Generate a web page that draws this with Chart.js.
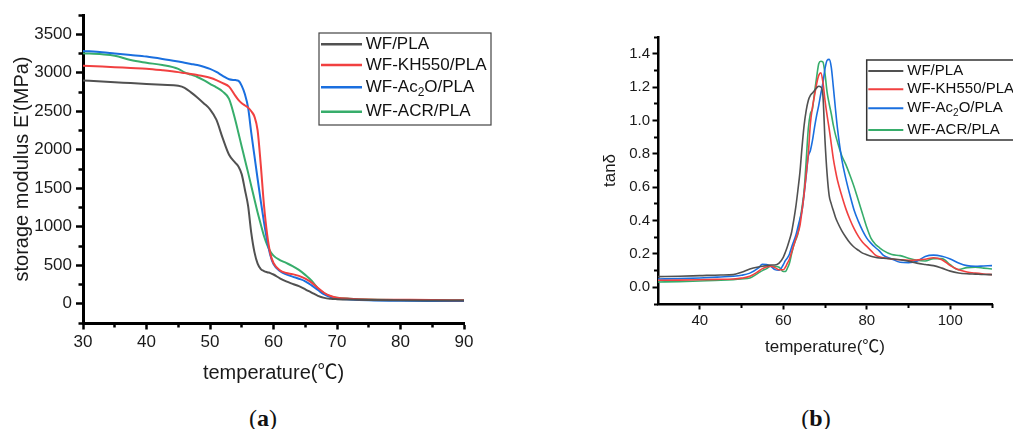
<!DOCTYPE html>
<html>
<head>
<meta charset="utf-8">
<title>WF/PLA - DMA</title>
<script src="https://cdn.jsdelivr.net/npm/chart.js@4.4.0/dist/chart.umd.min.js"></script>
<style>
  html, body { margin: 0; padding: 0; background: #fff; }
  #wrap { position: relative; width: 1013px; height: 429px; overflow: hidden; }
  canvas { position: absolute; top: 0; }
  #chartA { left: 0; }
  #chartB { left: 500px; }
  .cap { position: absolute; top: 418px; transform: translate(-50%, -50%);
         font-family: 'Liberation Serif', 'Times New Roman', serif; font-size: 24px; color: #111; }
</style>
</head>
<body>
<div id="wrap">
  <canvas id="chartA" width="500" height="400"></canvas>
  <canvas id="chartB" width="513" height="400"></canvas>
  <div class="cap" style="left:263px">(<b>a</b>)</div>
  <div class="cap" style="left:816px">(<b>b</b>)</div>
</div>
<script>
// --- (a) storage modulus E' (MPa) vs temperature ---
const tempA = [30, 33, 35, 37.5, 40, 42.5, 45, 46, 47, 48, 49, 50, 51, 52, 53, 54, 54.5, 55, 55.5, 56,
               56.5, 57, 57.5, 58, 58.5, 59, 59.5, 60, 61, 62, 63, 64, 65, 66, 67, 68, 69, 70, 72, 75, 80, 85, 90];
const modWfPla    = [2900, 2885, 2876, 2866, 2855, 2843, 2830, 2805, 2745, 2680, 2605, 2525, 2390, 2150, 1935, 1830, 1780, 1680, 1480, 1270,
                     920, 670, 520, 450, 425, 410, 398, 380, 330, 290, 258, 228, 188, 145, 102, 76, 65, 60, 54, 48, 44, 43, 43];
const modKh550    = [3090, 3080, 3072, 3062, 3052, 3032, 3008, 2995, 2983, 2970, 2955, 2935, 2905, 2865, 2820, 2700, 2645, 2605, 2575, 2547,
                     2500, 2430, 2250, 1800, 1280, 900, 650, 530, 435, 400, 385, 362, 325, 275, 205, 140, 100, 78, 65, 56, 52, 48, 45];
const modAc2o     = [3284, 3265, 3249, 3230, 3210, 3180, 3145, 3130, 3115, 3100, 3078, 3050, 3010, 2960, 2915, 2905, 2895, 2830, 2720, 2547,
                     2220, 1920, 1620, 1330, 1060, 820, 630, 515, 425, 382, 352, 325, 292, 238, 178, 121, 87, 69, 56, 45, 38, 36, 36];
const modAcr      = [3253, 3240, 3222, 3165, 3130, 3100, 3050, 3005, 2975, 2945, 2905, 2855, 2810, 2755, 2660, 2380, 2210, 2040, 1870, 1703,
                     1530, 1356, 1185, 1030, 880, 765, 680, 625, 567, 530, 490, 440, 375, 300, 200, 135, 95, 78, 65, 55, 48, 44, 42];
const xTicksA = [30, 40, 50, 60, 70, 80, 90];
const xMinorA = [35, 45, 55, 65, 75, 85];
const yTicksA = [0, 500, 1000, 1500, 2000, 2500, 3000, 3500];
const yMinorA = [-250, 250, 750, 1250, 1750, 2250, 2750, 3250, 3750];

// --- (b) tan delta vs temperature ---
const tempB = [30, 35, 40, 45, 48, 50, 52, 54, 55, 56, 57, 58, 59, 60, 60.5, 61, 61.5, 62, 62.5, 63,
               63.5, 64, 64.5, 65, 65.5, 66, 66.5, 67, 67.5, 68, 68.5, 69, 69.5, 70, 70.5, 71, 71.5, 72, 72.5, 73,
               74, 75, 76, 77, 78, 79, 80, 81, 82, 83, 84, 86, 88, 90, 92, 94, 96, 98, 100, 102, 104, 106, 108, 110];
const tanWfPla = [0.064, 0.066, 0.07, 0.074, 0.076, 0.09, 0.11, 0.122, 0.126, 0.13, 0.134, 0.134, 0.145, 0.18, 0.21, 0.245, 0.285, 0.33, 0.4, 0.48,
                  0.58, 0.69, 0.84, 0.97, 1.06, 1.12, 1.15, 1.165, 1.18, 1.195, 1.205, 1.2, 1.15, 0.88, 0.68, 0.55, 0.5, 0.46, 0.42, 0.39,
                  0.34, 0.3, 0.265, 0.24, 0.222, 0.205, 0.195, 0.186, 0.18, 0.176, 0.174, 0.17, 0.165, 0.157, 0.145, 0.137, 0.13, 0.115, 0.097, 0.086,
                  0.081, 0.079, 0.077, 0.076];
const tanKh550 = [0.042, 0.043, 0.045, 0.048, 0.05, 0.055, 0.066, 0.095, 0.112, 0.122, 0.126, 0.118, 0.105, 0.105, 0.12, 0.145, 0.17, 0.21, 0.25, 0.29,
                  0.325, 0.37, 0.46, 0.56, 0.68, 0.8, 0.98, 1.08, 1.15, 1.22, 1.27, 1.285, 1.23, 1.12, 1.03, 0.95, 0.86, 0.77, 0.7, 0.64,
                  0.55, 0.47, 0.405, 0.35, 0.305, 0.27, 0.245, 0.22, 0.195, 0.183, 0.177, 0.17, 0.165, 0.162, 0.164, 0.168, 0.177, 0.165, 0.13, 0.105,
                  0.092, 0.085, 0.08, 0.076];
const tanAc2o  = [0.05, 0.052, 0.056, 0.062, 0.066, 0.072, 0.085, 0.115, 0.138, 0.136, 0.126, 0.106, 0.102, 0.135, 0.16, 0.176, 0.2, 0.24, 0.275, 0.31,
                  0.36, 0.41, 0.46, 0.56, 0.67, 0.786, 0.82, 0.88, 0.96, 1.03, 1.09, 1.16, 1.225, 1.31, 1.36, 1.366, 1.32, 1.2, 1.07, 0.95,
                  0.77, 0.65, 0.55, 0.46, 0.395, 0.34, 0.295, 0.265, 0.24, 0.218, 0.192, 0.17, 0.15, 0.148, 0.156, 0.185, 0.193, 0.186, 0.17, 0.146,
                  0.13, 0.126, 0.128, 0.13];
const tanAcr   = [0.032, 0.034, 0.038, 0.042, 0.046, 0.05, 0.056, 0.085, 0.1, 0.112, 0.126, 0.125, 0.12, 0.095, 0.095, 0.115, 0.146, 0.2, 0.25, 0.285,
                  0.32, 0.4, 0.48, 0.58, 0.76, 0.95, 1.04, 1.07, 1.17, 1.26, 1.34, 1.355, 1.35, 1.28, 1.17, 1.1, 1.04, 0.97, 0.915, 0.87,
                  0.79, 0.735, 0.67, 0.6, 0.52, 0.44, 0.36, 0.295, 0.26, 0.238, 0.22, 0.196, 0.19, 0.174, 0.162, 0.158, 0.172, 0.172, 0.135, 0.106,
                  0.118, 0.12, 0.115, 0.11];
const xTicksB = [40, 60, 80, 100];
const xMinorB = [50, 70, 90, 110];
const yTicksB = [0, 0.2, 0.4, 0.6, 0.8, 1.0, 1.2, 1.4];
const yMinorB = [-0.1, 0.1, 0.3, 0.5, 0.7, 0.9, 1.1, 1.3, 1.5];

const seriesNames  = ['WF/PLA', 'WF-KH550/PLA', 'WF-Ac₂O/PLA', 'WF-ACR/PLA'];
const seriesColors = ['#515151', '#F14040', '#1A6FDF', '#37AD6B'];

const FONT = "'Liberation Sans', Arial, 'Noto Sans CJK SC', sans-serif";
const SUB = '₀₁₂₃₄₅₆₇₈₉';

// texto con subíndices (Ac₂O)
function drawRichLabel(ctx, text, x, y, size) {
  let cx = x, run = '';
  const flush = () => {
    if (!run) return;
    ctx.font = size + 'px ' + FONT;
    ctx.fillText(run, cx, y);
    cx += ctx.measureText(run).width;
    run = '';
  };
  for (const ch of text) {
    const k = SUB.indexOf(ch);
    if (k < 0) { run += ch; continue; }
    flush();
    ctx.font = Math.round(size * 0.68) + 'px ' + FONT;
    ctx.fillText(String(k), cx, y + size * 0.3);
    cx += ctx.measureText(String(k)).width;
  }
  flush();
}

// leyenda con marco, como en el original
const framedLegend = {
  id: 'framedLegend',
  afterDraw(chart, args, o) {
    const ctx = chart.ctx;
    ctx.save();
    ctx.lineWidth = o.frameWidth;
    ctx.strokeStyle = o.frameColor;
    ctx.strokeRect(o.left, o.top, o.width, o.height);
    ctx.textBaseline = 'middle';
    ctx.textAlign = 'left';
    chart.data.datasets.forEach((ds, i) => {
      const y = o.top + o.rows[i];
      ctx.beginPath();
      ctx.strokeStyle = ds.borderColor;
      ctx.lineWidth = o.lineWidth;
      ctx.moveTo(o.left + o.lineFrom, y);
      ctx.lineTo(o.left + o.lineTo, y);
      ctx.stroke();
      ctx.fillStyle = '#111';
      drawRichLabel(ctx, ds.label, o.left + o.textX, y, o.fontSize);
    });
    ctx.restore();
  }
};

function fixTicks(values) {
  return (scale) => { scale.ticks = values.map(v => ({ value: v })); };
}

function buildDatasets(xs, series, width) {
  return series.map((vals, i) => ({
    label: seriesNames[i],
    data: vals.map((v, j) => ({ x: xs[j], y: v })),
    borderColor: seriesColors[i],
    borderWidth: width,
    pointRadius: 0,
    fill: false,
    cubicInterpolationMode: 'monotone',
    xAxisID: 'x',
    yAxisID: 'y'
  }));
}

function buildScales(s) {
  const tickFont = { family: FONT, size: s.tickSize };
  const titleFont = { family: FONT, size: s.titleSize };
  return {
    x: {
      type: 'linear', position: 'bottom', weight: 1, min: s.xMin, max: s.xMax,
      afterBuildTicks: fixTicks(s.xTicks),
      afterFit: (sc) => { sc.height = s.xHeight; },
      border: { display: true, width: s.axisWidth, color: '#000' },
      grid: { drawOnChartArea: false, drawTicks: true, tickLength: s.xTickLen, tickWidth: s.tickWidth, color: '#000' },
      ticks: { font: tickFont, color: '#1a1a1a', padding: s.xTickPad, maxRotation: 0, autoSkip: false,
               callback: (v) => String(v) },
      title: { display: true, text: 'temperature(℃)', font: titleFont, color: '#1a1a1a',
               padding: { top: 0, bottom: s.xTitlePad } }
    },
    xMinor: {
      type: 'linear', position: 'bottom', weight: 0, min: s.xMin, max: s.xMax,
      afterBuildTicks: fixTicks(s.xMinor),
      afterFit: (sc) => { sc.height = 0; },
      border: { display: false },
      grid: { drawOnChartArea: false, drawTicks: true, tickLength: s.minorLen, tickWidth: s.tickWidth, color: '#000' },
      ticks: { display: false }
    },
    y: {
      type: 'linear', position: 'left', weight: 1, min: s.yMin, max: s.yMax,
      afterBuildTicks: fixTicks(s.yTicks),
      afterFit: (sc) => { sc.width = s.yWidth; },
      border: { display: true, width: s.axisWidth, color: '#000' },
      grid: { drawOnChartArea: false, drawTicks: true, tickLength: s.yTickLen, tickWidth: s.tickWidth, color: '#000' },
      ticks: { font: tickFont, color: '#1a1a1a', padding: s.yTickPad, autoSkip: false, callback: s.yFormat },
      title: { display: true, text: s.yTitle, font: titleFont, color: '#1a1a1a',
               padding: { top: s.yTitlePad, bottom: 0 } }
    },
    yMinor: {
      type: 'linear', position: 'left', weight: 0, min: s.yMin, max: s.yMax,
      afterBuildTicks: fixTicks(s.yMinor),
      afterFit: (sc) => { sc.width = 0; },
      border: { display: false },
      grid: { drawOnChartArea: false, drawTicks: true, tickLength: s.minorLen, tickWidth: s.tickWidth, color: '#000' },
      ticks: { display: false }
    }
  };
}

// --- (a) ---
new Chart(document.getElementById('chartA'), {
  type: 'line',
  data: { datasets: buildDatasets(tempA, [modWfPla, modKh550, modAc2o, modAcr], 2) },
  plugins: [framedLegend],
  options: {
    responsive: false,
    animation: false,
    layout: { padding: { top: 15, right: 36, bottom: 0, left: 0 }, autoPadding: false },
    scales: buildScales({
      xMin: 30, xMax: 90, yMin: -250, yMax: 3750,
      xTicks: xTicksA, xMinor: xMinorA, yTicks: yTicksA, yMinor: yMinorA,
      xHeight: 77, yWidth: 83, axisWidth: 3, tickWidth: 2.5,
      xTickLen: 6.5, xTickPad: 2.5, yTickLen: 7, yTickPad: 4, minorLen: 4.5,
      tickSize: 17, titleSize: 20, xTitlePad: 15, yTitlePad: 10,
      yTitle: "storage modulus E'(MPa)", yFormat: (v) => String(v)
    }),
    plugins: {
      legend: { display: false },
      tooltip: { enabled: false },
      framedLegend: {
        left: 319, top: 33, width: 172, height: 92, rows: [11.3, 32, 54.3, 78.7],
        lineFrom: 2, lineTo: 43, textX: 46.7, lineWidth: 2.5, fontSize: 17,
        frameColor: '#444', frameWidth: 1.2
      }
    }
  }
});

// --- (b) ---
new Chart(document.getElementById('chartB'), {
  type: 'line',
  data: { datasets: buildDatasets(tempB, [tanWfPla, tanKh550, tanAc2o, tanAcr], 1.6) },
  plugins: [framedLegend],
  options: {
    responsive: false,
    animation: false,
    layout: { padding: { top: 37, right: 21, bottom: 0, left: 0 }, autoPadding: false },
    scales: buildScales({
      xMin: 30, xMax: 110, yMin: -0.1, yMax: 1.5,
      xTicks: xTicksB, xMinor: xMinorB, yTicks: yTicksB, yMinor: yMinorB,
      xHeight: 96, yWidth: 158, axisWidth: 2.5, tickWidth: 2,
      xTickLen: 5.5, xTickPad: 2, yTickLen: 5.5, yTickPad: 2.5, minorLen: 4,
      tickSize: 15, titleSize: 17, xTitlePad: 42, yTitlePad: 100,
      yTitle: 'tanδ', yFormat: (v) => v.toFixed(1)
    }),
    plugins: {
      legend: { display: false },
      tooltip: { enabled: false },
      framedLegend: {
        left: 366.7, top: 60, width: 160, height: 80, rows: [11, 29.3, 48.3, 70],
        lineFrom: 1.6, lineTo: 36.6, textX: 40.6, lineWidth: 2, fontSize: 15,
        frameColor: '#333', frameWidth: 1.5
      }
    }
  }
});
</script>
</body>
</html>
